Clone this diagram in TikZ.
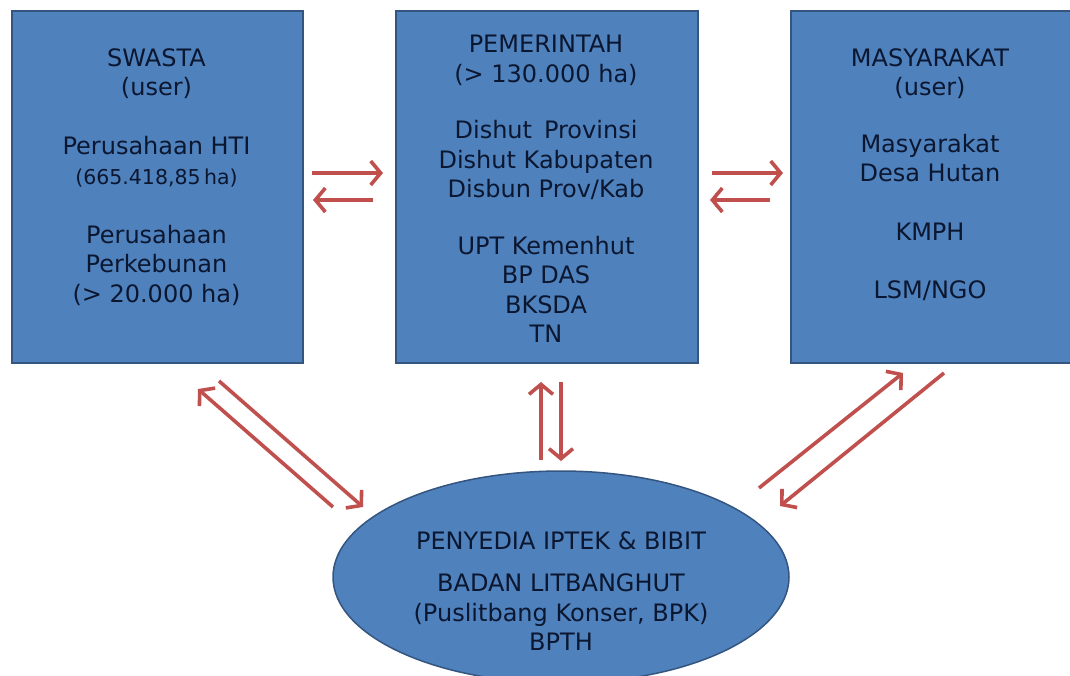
\documentclass[tikz,border=0pt]{standalone}
\usepackage{fontspec}
\setmainfont{DejaVu Sans}
\usetikzlibrary{arrows.meta,shapes.geometric}
\definecolor{boxfill}{HTML}{4F81BD}
\definecolor{boxline}{HTML}{34557F}
\definecolor{txtcol}{HTML}{0B1730}
\definecolor{arrcol}{HTML}{C0504D}
\begin{document}
\begin{tikzpicture}[x=1pt,y=-1pt,
  box/.style={draw=boxline, line width=1.5pt, fill=boxfill, inner sep=0pt, anchor=north west},
  oval/.style={ellipse, draw=boxline, line width=1.5pt, fill=boxfill, inner sep=0pt},
  txt/.style={text=txtcol, align=center, inner sep=0pt, anchor=north,
    font=\fontsize{24pt}{29.5pt}\selectfont},
  arr/.style={draw=arrcol, line width=3.6pt, -{Straight Barb[length=10pt,width=24pt]}}]
\useasboundingbox (0,0) rectangle (1070,675);
\clip (0,0) rectangle (1070,675);

% boxes
\node[box, minimum width=291pt, minimum height=352pt] (swasta) at (11,10) {};
\node[box, minimum width=302pt, minimum height=352pt] (pemerintah) at (395,10) {};
\node[box, minimum width=300pt, minimum height=352pt] (masyarakat) at (790,10) {};
\node[oval, minimum width=456pt, minimum height=212pt] (penyedia) at (561,577) {};

% texts
\node[txt] (swastaT) at (156.5,48) {SWASTA\\(user)\\[29.5pt]Perusahaan HTI\\
  {\fontsize{20.5pt}{22pt}\selectfont (665.418,85\,ha)}\\[29.5pt]Perusahaan\\Perkebunan\\(> 20.000 ha)};
\node[txt] (pemerintahT) at (546,35) {PEMERINTAH\\(> 130.000 ha)\\[27pt]Dishut\enspace Provinsi\\Dishut Kabupaten\\Disbun Prov/Kab\\[27pt]UPT Kemenhut\\BP DAS\\BKSDA\\TN};
\node[txt] (masyarakatT) at (930,48) {MASYARAKAT\\(user)\\[27pt]Masyarakat\\Desa Hutan\\[29pt]KMPH\\[29pt]LSM/NGO};
\node[txt] (penyediaT) at (561,531) {PENYEDIA IPTEK \& BIBIT\\[13pt]BADAN LITBANGHUT\\(Puslitbang Konser, BPK)\\BPTH};

% arrow end points
\coordinate (a1s) at (312,173); \coordinate (a1e) at (383,173);
\coordinate (a2s) at (373,200); \coordinate (a2e) at (313,200);
\coordinate (a3s) at (712,173); \coordinate (a3e) at (783,173);
\coordinate (a4s) at (770,200); \coordinate (a4e) at (710,200);
\coordinate (a5s) at (333,507); \coordinate (a5e) at (198,389);
\coordinate (a6s) at (219,381); \coordinate (a6e) at (363,507);
\coordinate (a7s) at (541,460); \coordinate (a7e) at (541,382);
\coordinate (a8s) at (561,382); \coordinate (a8e) at (561,461);
\coordinate (a9s) at (759,488); \coordinate (a9e) at (903,373);
\coordinate (a10s) at (944,373); \coordinate (a10e) at (780,506);

\draw[arr] (a1s) -- (a1e);
\draw[arr] (a2s) -- (a2e);
\draw[arr] (a3s) -- (a3e);
\draw[arr] (a4s) -- (a4e);
\draw[arr] (a5s) -- (a5e);
\draw[arr] (a6s) -- (a6e);
\draw[arr] (a7s) -- (a7e);
\draw[arr] (a8s) -- (a8e);
\draw[arr] (a9s) -- (a9e);
\draw[arr] (a10s) -- (a10e);
\end{tikzpicture}
\end{document}
